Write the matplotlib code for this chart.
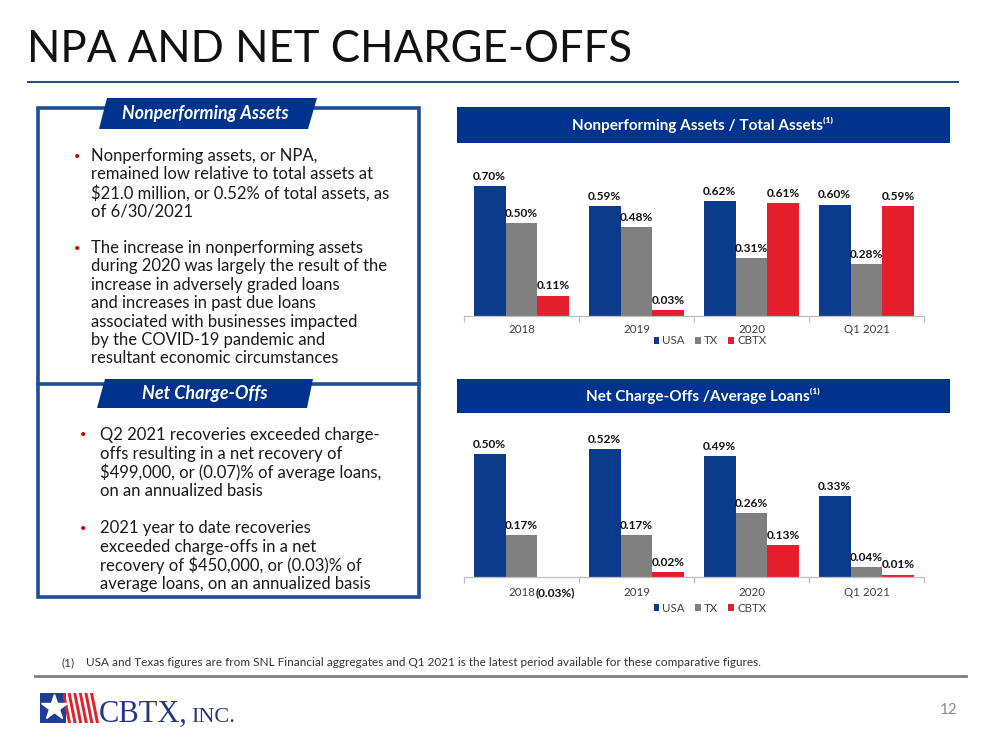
import matplotlib
matplotlib.use("Agg")
import matplotlib.pyplot as plt
from matplotlib.patches import Rectangle, Polygon
import numpy as np

# ---------------- data ----------------
categories = ["2018", "2019", "2020", "Q1 2021"]
series_names = ["USA", "TX", "CBTX"]

npa_usa = [0.70, 0.59, 0.62, 0.60]
npa_tx = [0.50, 0.48, 0.31, 0.28]
npa_cbtx = [0.11, 0.03, 0.61, 0.59]

nco_usa = [0.50, 0.52, 0.49, 0.33]
nco_tx = [0.17, 0.17, 0.26, 0.04]
nco_cbtx = [-0.03, 0.02, 0.13, 0.01]

title_text = "NPA AND NET CHARGE-OFFS"
chart1_title = "Nonperforming Assets / Total Assets"
chart2_title = "Net Charge-Offs /Average Loans"
tab1_text = "Nonperforming Assets"
tab2_text = "Net Charge-Offs"
bullets_npa = [
    ["Nonperforming assets, or NPA,",
     "remained low relative to total assets at",
     "$21.0 million, or 0.52% of total assets, as",
     "of 6/30/2021"],
    ["The increase in nonperforming assets",
     "during 2020 was largely the result of the",
     "increase in adversely graded loans",
     "and increases in past due loans",
     "associated with businesses impacted",
     "by the COVID-19 pandemic and",
     "resultant economic circumstances"],
]
bullets_nco = [
    ["Q2 2021 recoveries exceeded charge-",
     "offs resulting in a net recovery of",
     "$499,000, or (0.07)% of average loans,",
     "on an annualized basis"],
    ["2021 year to date recoveries",
     "exceeded charge-offs in a net",
     "recovery of $450,000, or (0.03)% of",
     "average loans, on an annualized basis"],
]
footnote = "USA and Texas figures are from SNL Financial aggregates and Q1 2021 is the latest period available for these comparative figures."
page_no = "12"

# ---------------- style ----------------
FONT = ["Lato", "DejaVu Sans"]
plt.rcParams["font.family"] = FONT
NAVY = "#00338D"
USA_C = "#0B3C8C"
TX_C = "#808080"
CB_C = "#E41E2D"
BOX_C = "#1F4E96"
colors = [USA_C, TX_C, CB_C]

W, H = 1000, 750
fig = plt.figure(figsize=(10, 7.5), dpi=100)

# overlay axes in pixel coordinates
ov = fig.add_axes([0, 0, 1, 1], zorder=0)
ov.set_xlim(0, W)
ov.set_ylim(H, 0)
ov.axis("off")

# Title
ov.text(27, 50, title_text, fontsize=31.5, fontweight="normal", color="#111111",
        va="center", ha="left")
ov.plot([28, 958], [82, 82], color="#1F4E79", lw=1.4)

# Left panel box
ov.add_patch(Rectangle((38, 108), 381, 489, fill=False, ec=BOX_C, lw=2.6))
ov.plot([38, 419], [384, 384], color=BOX_C, lw=2.6)

# Tabs
ov.add_patch(Polygon([(107, 98), (317, 98), (308, 129), (99, 129)],
                     closed=True, fc=NAVY, ec="none", zorder=3))
ov.text(205, 114, tab1_text, color="white", fontsize=12.8, fontweight="bold",
        style="italic", ha="center", va="center", zorder=4)
ov.add_patch(Polygon([(105, 379), (313, 379), (307, 408), (97, 408)],
                     closed=True, fc=NAVY, ec="none", zorder=3))
ov.text(205, 394, tab2_text, color="white", fontsize=13, fontweight="bold",
        style="italic", ha="center", va="center", zorder=4)


def draw_bullets(groups, starts, bx, tx, spacing=18.5, fs=12):
    for lines, y0 in zip(groups, starts):
        ov.text(bx, y0, "\u2022", color="#C00000", fontsize=8, ha="center",
                va="center")
        for k, ln in enumerate(lines):
            ov.text(tx, y0 + k * spacing, ln, fontsize=fs, color="#1a1a1a",
                    ha="left", va="center")


draw_bullets(bullets_npa, [156, 248], 77, 91, spacing=18.4)
draw_bullets(bullets_nco, [435, 528], 83, 100, spacing=18.6)

# Chart header bars
for (y0, y1, t) in [(107, 143, chart1_title), (379, 413, chart2_title)]:
    ov.add_patch(Rectangle((457, y0), 493, y1 - y0, fc=NAVY, ec="none"))
    ov.text(703, (y0 + y1) / 2, t + "\u207d\u00b9\u207e", color="white",
            fontsize=11, fontweight="bold", ha="center", va="center")

# Footnote and footer
ov.text(62, 663, "(1)", fontsize=8.5, color="#333333", ha="left", va="center")
ov.text(86, 663, footnote, fontsize=8.5, color="#333333", ha="left", va="center")
ov.plot([35, 966], [676, 676], color="#7F7F7F", lw=2)
ov.text(949, 710, page_no, fontsize=11, color="#8C8C8C", ha="center", va="center")

# Logo
ov.add_patch(Rectangle((40, 693), 26, 30, fc="#1F3C96", ec="none"))
for i in range(6):
    x0 = 62 + i * 5.6
    ov.add_patch(Polygon([(x0, 693), (x0 + 3, 693), (x0 + 9, 723), (x0 + 6, 723)],
                         closed=True, fc="#E31E2D", ec="none"))
ov.add_patch(Rectangle((60, 693), 3, 30, fc="#1F3C96", ec="none"))
ov.plot([54], [707], marker="*", markersize=19, color="white",
        markeredgecolor="white")
t_cbtx = ov.text(99, 722, "CBTX,", fontsize=22, family="Liberation Serif",
                 color="#2B3585", ha="left", va="baseline")
fig.canvas.draw()
bb = t_cbtx.get_window_extent()
x_end = bb.x1 / fig.dpi * 100  # pixels
ov.text(x_end + 3, 722, "INC.", fontsize=16, family="Liberation Serif",
        color="#2B3585", ha="left", va="baseline")


def px_axes(left, right, top, bottom):
    return fig.add_axes([left / W, 1 - bottom / H, (right - left) / W,
                         (bottom - top) / H], zorder=2)


def bar_chart(ax, data, ymax, legend_y, label_drop_px):
    n = len(categories)
    x = np.arange(n)
    w = 0.278
    handles = []
    for j, (vals, c, name) in enumerate(zip(data, colors, series_names)):
        xs = x + (j - 1) * w
        bars = ax.bar(xs, vals, width=w, color=c, label=name, zorder=2)
        handles.append(bars)
        for xi, v in zip(xs, vals):
            if v >= 0:
                ax.annotate(f"{v:.2f}%", (xi, v), xytext=(0, 3),
                            textcoords="offset points", ha="center",
                            va="bottom", fontsize=8.6, fontweight="bold",
                            color="#111111")
            else:
                ax.annotate(f"({abs(v):.2f}%)", (xi + 0.02, 0),
                            xytext=(0, -label_drop_px * 0.72),
                            textcoords="offset points", ha="center",
                            va="center", fontsize=8.6, fontweight="bold",
                            color="#111111", annotation_clip=False)
    ax.set_xlim(-0.5, n - 0.5)
    ax.set_ylim(0, ymax)
    for s in ["top", "right", "left"]:
        ax.spines[s].set_visible(False)
    ax.spines["bottom"].set_color("#BFBFBF")
    ax.spines["bottom"].set_linewidth(0.9)
    ax.set_yticks([])
    ax.set_xticks(np.arange(n + 1) - 0.5)
    ax.set_xticklabels([])
    ax.tick_params(axis="x", which="major", length=4, color="#BFBFBF", width=0.9)
    ax.set_xticks(x, minor=True)
    ax.set_xticklabels(categories, minor=True)
    pad_pt = (label_drop_px - 6) * 0.72
    ax.tick_params(axis="x", which="minor", length=0, pad=pad_pt, labelsize=8.3,
                   labelcolor="#404040")
    ax.patch.set_alpha(0)
    ax.legend(handles=handles, labels=series_names, loc="center",
              bbox_to_anchor=(710 / W, 1 - legend_y / H),
              bbox_transform=fig.transFigure, ncol=3, frameon=False,
              fontsize=8.3, handlelength=0.5, handleheight=0.5,
              handletextpad=0.25, columnspacing=0.9, labelcolor="#404040")
    return ax


ax1 = px_axes(464, 924, 316 - 0.8 * 185.7, 316)
bar_chart(ax1, [npa_usa, npa_tx, npa_cbtx], 0.8, 341, 14)

ax2 = px_axes(464, 924, 577 - 0.6 * 246, 577)
bar_chart(ax2, [nco_usa, nco_tx, nco_cbtx], 0.6, 608, 16)

fig.savefig("out.png", dpi=100)
